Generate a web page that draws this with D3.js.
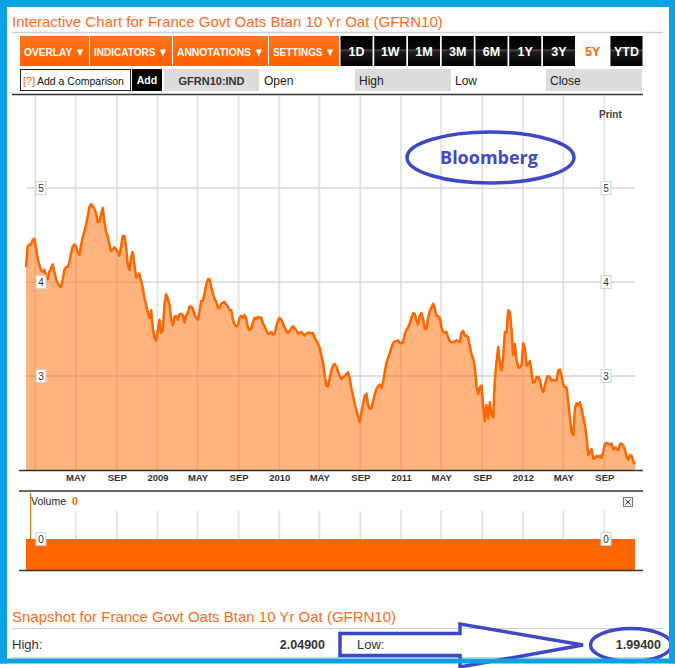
<!DOCTYPE html>
<html>
<head>
<meta charset="utf-8">
<script src="https://cdn.jsdelivr.net/npm/d3@7"></script>
<style>
  body { margin: 0; background: #fff; }
  svg { display: block; font-family: "Liberation Sans", Arial, sans-serif; }
</style>
</head>
<body>
<script>
// --- data ---
var titleText = "Interactive Chart for France Govt Oats Btan 10 Yr Oat (GFRN10)";
var snapshotTitle = "Snapshot for France Govt Oats Btan 10 Yr Oat (GFRN10)";
var menuLabels = ["OVERLAY \u25BC", "INDICATORS \u25BC", "ANNOTATIONS \u25BC", "SETTINGS \u25BC"];
var rangeLabels = ["1D", "1W", "1M", "3M", "6M", "1Y", "3Y", "5Y", "YTD"];
var activeRange = "5Y";
var tickerLabel = "GFRN10:IND";
var quoteFields = ["Open", "High", "Low", "Close"];

// 10y yield, one reading every 5 days from 4 Dec 2007
var seriesStart = "2007-12-04";
var sampleDays = 5;
var yields = [
  4.16, 4.38, 4.40, 4.40, 4.45, 4.46, 4.36, 4.25, 4.18, 4.13,
  4.11, 4.13, 4.07, 4.03, 4.11, 4.15, 4.19, 4.11, 4.03, 3.99,
  3.96, 3.95, 4.03, 4.13, 4.16, 4.16, 4.21, 4.31, 4.38, 4.40,
  4.38, 4.31, 4.29, 4.39, 4.48, 4.54, 4.61, 4.70, 4.80, 4.83,
  4.81, 4.78, 4.73, 4.64, 4.64, 4.72, 4.79, 4.64, 4.53, 4.49,
  4.40, 4.33, 4.35, 4.37, 4.35, 4.32, 4.28, 4.38, 4.49, 4.49,
  4.37, 4.18, 4.13, 4.27, 4.32, 4.18, 4.05, 4.07, 4.09, 4.01,
  3.94, 3.83, 3.76, 3.68, 3.62, 3.70, 3.51, 3.41, 3.38, 3.49,
  3.60, 3.46, 3.49, 3.76, 3.87, 3.82, 3.76, 3.60, 3.54, 3.63,
  3.64, 3.60, 3.66, 3.66, 3.65, 3.57, 3.65, 3.67, 3.74, 3.74,
  3.72, 3.65, 3.62, 3.60, 3.69, 3.80, 3.80, 3.88, 3.97, 4.03,
  4.03, 3.95, 3.88, 3.82, 3.79, 3.73, 3.72, 3.77, 3.78, 3.79,
  3.76, 3.74, 3.70, 3.70, 3.60, 3.55, 3.53, 3.54, 3.62, 3.64,
  3.62, 3.65, 3.61, 3.52, 3.49, 3.51, 3.57, 3.62, 3.61, 3.63,
  3.62, 3.62, 3.56, 3.53, 3.49, 3.45, 3.45, 3.47, 3.44, 3.45,
  3.53, 3.59, 3.62, 3.60, 3.56, 3.52, 3.48, 3.46, 3.48, 3.51,
  3.53, 3.51, 3.49, 3.45, 3.46, 3.47, 3.45, 3.43, 3.45, 3.46,
  3.46, 3.45, 3.46, 3.41, 3.38, 3.34, 3.30, 3.22, 3.15, 3.01,
  2.90, 2.89, 2.98, 3.06, 3.11, 3.13, 3.10, 3.05, 3.00, 2.97,
  2.99, 3.00, 3.02, 3.04, 2.98, 2.87, 2.79, 2.70, 2.64, 2.57,
  2.51, 2.61, 2.70, 2.79, 2.81, 2.70, 2.65, 2.66, 2.73, 2.80,
  2.86, 2.89, 2.91, 2.87, 2.93, 3.04, 3.14, 3.19, 3.24, 3.30,
  3.35, 3.37, 3.37, 3.38, 3.35, 3.35, 3.36, 3.45, 3.49, 3.52,
  3.56, 3.62, 3.67, 3.66, 3.59, 3.55, 3.64, 3.67, 3.61, 3.50,
  3.50, 3.62, 3.69, 3.73, 3.77, 3.72, 3.64, 3.64, 3.62, 3.52,
  3.47, 3.46, 3.47, 3.41, 3.37, 3.36, 3.36, 3.37, 3.38, 3.37,
  3.36, 3.46, 3.48, 3.43, 3.43, 3.41, 3.32, 3.23, 3.19, 3.09,
  2.90, 2.81, 2.88, 2.90, 2.69, 2.52, 2.69, 2.55, 2.72, 2.59,
  2.56, 2.96, 3.15, 3.31, 3.14, 3.06, 3.20, 3.47, 3.46, 3.70,
  3.68, 3.49, 3.22, 3.34, 3.17, 3.09, 3.09, 3.12, 3.35, 3.30,
  3.11, 3.13, 3.16, 3.04, 2.93, 2.94, 2.99, 2.99, 2.96, 2.87,
  2.83, 2.90, 2.98, 3.00, 2.99, 2.95, 2.96, 2.95, 2.96, 3.06,
  3.07, 3.00, 2.91, 2.88, 2.88, 2.72, 2.55, 2.40, 2.37, 2.66,
  2.71, 2.69, 2.72, 2.65, 2.56, 2.48, 2.34, 2.16, 2.19, 2.22,
  2.12, 2.13, 2.15, 2.14, 2.15, 2.13, 2.20, 2.28, 2.29, 2.28,
  2.27, 2.28, 2.22, 2.24, 2.23, 2.21, 2.28, 2.28, 2.26, 2.21,
  2.14, 2.11, 2.16, 2.15, 2.09, 2.06
];
var yTicks = [3, 4, 5];
var xTickDates = ["2008-01-01", "2008-05-01", "2008-09-01", "2009-01-01", "2009-05-01",
  "2009-09-01", "2010-01-01", "2010-05-01", "2010-09-01", "2011-01-01", "2011-05-01",
  "2011-09-01", "2012-01-01", "2012-05-01", "2012-09-01"];
var xTickLabels = ["", "MAY", "SEP", "2009", "MAY", "SEP", "2010", "MAY", "SEP", "2011",
  "MAY", "SEP", "2012", "MAY", "SEP"];
var volumes = [0];
var volumeTicks = [0];
var snapshotHigh = 2.049;
var snapshotLow = 1.994;

// --- page ---
var W = 675, H = 668;
var orange = "#ff6600", annot = "#3f47c9";
var parseDate = d3.timeParse("%Y-%m-%d");
var start = parseDate(seriesStart);
var series = yields.map(function (v, i) {
  return { date: d3.timeDay.offset(start, i * sampleDays), value: v };
});
var tickDates = xTickDates.map(parseDate);

var svg = d3.select("body").append("svg").attr("width", W).attr("height", H);
svg.append("rect").attr("width", W).attr("height", H).attr("fill", "#fff");

var defs = svg.append("defs");
function vGrad(id, stops) {
  var g = defs.append("linearGradient").attr("id", id)
    .attr("x1", 0).attr("y1", 0).attr("x2", 0).attr("y2", 1);
  stops.forEach(function (s) {
    g.append("stop").attr("offset", s[0]).attr("stop-color", s[1]);
  });
}
vGrad("gOrange", [["0%", "#ff7420"], ["50%", "#ff6a0a"], ["100%", "#ff6000"]]);
vGrad("gBlack", [["0%", "#000"], ["42%", "#080808"], ["47%", "#4a4a4a"], ["53%", "#1c1c1c"], ["100%", "#000"]]);

// title
svg.append("text").attr("x", 12).attr("y", 27).attr("font-size", 15)
  .attr("fill", "#ff6a1a").text(titleText);
svg.append("line").attr("x1", 12).attr("x2", 663).attr("y1", 32.5).attr("y2", 32.5)
  .attr("stroke", "#cfcfcf").attr("stroke-width", 1.5);

// toolbar: menus
var menuEdges = [20, 90, 173, 269, 340];
var menus = svg.append("g").selectAll("g").data(menuLabels).join("g");
menus.append("rect")
  .attr("x", function (d, i) { return menuEdges[i]; })
  .attr("y", 36)
  .attr("width", function (d, i) { return menuEdges[i + 1] - menuEdges[i] - 1; })
  .attr("height", 30)
  .attr("fill", "url(#gOrange)");
menus.append("text")
  .attr("x", function (d, i) { return (menuEdges[i] + menuEdges[i + 1] - 1) / 2; })
  .attr("y", 55.5).attr("text-anchor", "middle")
  .attr("font-size", 11.5).attr("font-weight", "bold").attr("fill", "#fff")
  .attr("textLength", function (d, i) { return menuEdges[i + 1] - menuEdges[i] - 9; })
  .attr("lengthAdjust", "spacingAndGlyphs")
  .text(function (d) { return d; });

// toolbar: ranges
var rangeX = d3.scaleBand().domain(rangeLabels).range([340.5, 642.5]).paddingInner(0.05);
var ranges = svg.append("g").selectAll("g").data(rangeLabels).join("g");
ranges.append("rect")
  .attr("x", function (d) { return rangeX(d); }).attr("y", 36)
  .attr("width", rangeX.bandwidth()).attr("height", 30)
  .attr("fill", function (d) { return d == activeRange ? "#fff" : "url(#gBlack)"; });
ranges.append("text")
  .attr("x", function (d) { return rangeX(d) + rangeX.bandwidth() / 2; })
  .attr("y", 56).attr("text-anchor", "middle")
  .attr("font-size", 12.5).attr("font-weight", "bold")
  .attr("fill", function (d) { return d == activeRange ? orange : "#fff"; })
  .text(function (d) { return d; });

// comparison row
svg.append("rect").attr("x", 20.5).attr("y", 69.5).attr("width", 110).attr("height", 21)
  .attr("fill", "#fff").attr("stroke", "#222");
svg.append("text").attr("x", 23).attr("y", 84.5).attr("font-size", 11)
  .attr("fill", orange).text("[?]");
svg.append("text").attr("x", 37).attr("y", 84.5).attr("font-size", 10.5).attr("fill", "#111").text("Add a Comparison");
svg.append("rect").attr("x", 132).attr("y", 69).attr("width", 30).attr("height", 22).attr("fill", "#000");
svg.append("text").attr("x", 147).attr("y", 84).attr("text-anchor", "middle")
  .attr("font-size", 10.5).attr("font-weight", "bold").attr("fill", "#fff").text("Add");
svg.append("rect").attr("x", 164).attr("y", 69).attr("width", 95).attr("height", 22).attr("fill", "#dcdcdc");
svg.append("text").attr("x", 211.5).attr("y", 84.5).attr("text-anchor", "middle")
  .attr("font-size", 11).attr("font-weight", "bold").attr("fill", "#333").text(tickerLabel);

var fieldX = [264, 355, 455, 546];
var fields = svg.append("g").selectAll("g").data(quoteFields).join("g");
fields.filter(function (d, i) { return i % 2 == 1; }).append("rect")
  .attr("x", function (d) { return fieldX[quoteFields.indexOf(d)]; })
  .attr("y", 69).attr("width", 96).attr("height", 22).attr("fill", "#dcdcdc");
fields.append("text")
  .attr("x", function (d, i) { return fieldX[i] + (i % 2 ? 4 : 0); })
  .attr("y", 85).attr("font-size", 12).attr("fill", "#222")
  .text(function (d) { return d; });

// --- main price panel ---
var x = d3.scaleTime().domain(d3.extent(series, function (d) { return d.date; })).range([26, 635]);
var y = d3.scaleLinear().domain([2, 5.97]).range([470, 97]);

svg.append("line").attr("x1", 12).attr("x2", 643).attr("y1", 94.5).attr("y2", 94.5)
  .attr("stroke", "#333").attr("stroke-width", 1.5);

svg.append("g").selectAll("line").data(tickDates).join("line")
  .attr("x1", function (d) { return x(d); }).attr("x2", function (d) { return x(d); })
  .attr("y1", 96).attr("y2", 470)
  .attr("stroke", "#e4e4e4").attr("stroke-width", 2);
svg.append("g").selectAll("line").data(yTicks).join("line")
  .attr("x1", 26).attr("x2", 635)
  .attr("y1", function (d) { return y(d); }).attr("y2", function (d) { return y(d); })
  .attr("stroke", "#d2d2d2").attr("stroke-width", 1.4);

var area = d3.area()
  .x(function (d) { return x(d.date); })
  .y0(y(2))
  .y1(function (d) { return y(d.value); });
var line = d3.line()
  .x(function (d) { return x(d.date); })
  .y(function (d) { return y(d.value); });
svg.append("path").datum(series).attr("d", area)
  .attr("fill", "#ff6a00").attr("fill-opacity", 0.51);
svg.append("path").datum(series).attr("d", line)
  .attr("fill", "none").attr("stroke", orange).attr("stroke-width", 2.5)
  .attr("stroke-linejoin", "round");

// boxed y labels on both sides
function boxLabels(g, ticks, scale, cx) {
  var lab = g.append("g").selectAll("g").data(ticks).join("g")
    .attr("transform", function (d) { return "translate(" + cx + "," + scale(d) + ")"; });
  lab.append("rect").attr("x", -5).attr("y", -6.5).attr("width", 10).attr("height", 13)
    .attr("fill", "#fff").attr("stroke", "#d0d0d0");
  lab.append("text").attr("y", 3.5).attr("text-anchor", "middle")
    .attr("font-size", 10).attr("fill", "#333").text(function (d) { return d; });
}
boxLabels(svg, yTicks, y, 41);
boxLabels(svg, yTicks, y, 606);

svg.append("text").attr("x", 599).attr("y", 117.5).attr("font-size", 10)
  .attr("font-weight", "bold").attr("fill", "#444").text("Print");

var xAxis = svg.append("g").attr("transform", "translate(0,470)")
  .call(d3.axisBottom(x).tickValues(tickDates).tickSize(0).tickPadding(4)
    .tickFormat(function (d, i) { return xTickLabels[i]; }));
xAxis.select(".domain").remove();
xAxis.selectAll("text").attr("font-size", 9.5).attr("font-weight", "bold")
  .attr("font-family", "Liberation Sans, Arial, sans-serif").attr("fill", "#333");
svg.append("line").attr("x1", 19).attr("x2", 643).attr("y1", 470.5).attr("y2", 470.5)
  .attr("stroke", "#333").attr("stroke-width", 1.5);

// --- volume panel ---
var vy = d3.scaleLinear().domain([0, 1]).range([539, 512]);
svg.append("line").attr("x1", 19).attr("x2", 643).attr("y1", 491).attr("y2", 491)
  .attr("stroke", "#333").attr("stroke-width", 1.5);
svg.append("g").selectAll("line").data(tickDates.slice(1)).join("line")
  .attr("x1", function (d) { return x(d); }).attr("x2", function (d) { return x(d); })
  .attr("y1", 511).attr("y2", 539)
  .attr("stroke", "#e4e4e4").attr("stroke-width", 2);
svg.append("line").attr("x1", 30.5).attr("x2", 30.5).attr("y1", 493).attr("y2", 539)
  .attr("stroke", orange).attr("stroke-width", 1);
svg.append("text").attr("x", 31).attr("y", 505).attr("font-size", 10.5).attr("fill", "#222").text("Volume");
svg.append("text").attr("x", 72).attr("y", 505).attr("font-size", 10.5).attr("font-weight", "bold")
  .attr("fill", orange).text(volumes[volumes.length - 1]);
svg.append("rect").attr("x", 623.5).attr("y", 497.5).attr("width", 9).attr("height", 9)
  .attr("fill", "#eee").attr("stroke", "#777");
svg.append("path").attr("d", "M625.5,499.5L630.5,504.5M630.5,499.5L625.5,504.5")
  .attr("stroke", "#333").attr("stroke-width", 1);
svg.append("g").selectAll("rect").data(volumes).join("rect")
  .attr("x", x.range()[0]).attr("width", x.range()[1] - x.range()[0])
  .attr("y", function (d) { return vy(d); })
  .attr("height", function (d) { return 570 - vy(d); })
  .attr("fill", orange);
boxLabels(svg, volumeTicks, vy, 41);
boxLabels(svg, volumeTicks, vy, 606);
svg.append("line").attr("x1", 19).attr("x2", 643).attr("y1", 570.5).attr("y2", 570.5)
  .attr("stroke", "#333").attr("stroke-width", 1.5);

// --- snapshot ---
var fmt = d3.format(".5f");
svg.append("text").attr("x", 12).attr("y", 622).attr("font-size", 15)
  .attr("fill", "#ff6a1a").text(snapshotTitle);
svg.append("line").attr("x1", 12).attr("x2", 663).attr("y1", 628.5).attr("y2", 628.5)
  .attr("stroke", "#cfcfcf");
svg.append("line").attr("x1", 12).attr("x2", 663).attr("y1", 657.5).attr("y2", 657.5)
  .attr("stroke", "#cfcfcf");
svg.append("line").attr("x1", 340.5).attr("x2", 340.5).attr("y1", 629).attr("y2", 657)
  .attr("stroke", "#cfcfcf");
svg.append("text").attr("x", 12).attr("y", 648.5).attr("font-size", 13).attr("fill", "#333").text("High:");
svg.append("text").attr("x", 325).attr("y", 648.5).attr("text-anchor", "end").attr("font-size", 12.5)
  .attr("font-weight", "bold").attr("fill", "#333").text(fmt(snapshotHigh));
svg.append("text").attr("x", 357).attr("y", 648.5).attr("font-size", 13).attr("fill", "#333").text("Low:");
svg.append("text").attr("x", 661).attr("y", 648.5).attr("text-anchor", "end").attr("font-size", 12.5)
  .attr("font-weight", "bold").attr("fill", "#333").text(fmt(snapshotLow));

// --- hand-drawn annotations ---
svg.append("ellipse").attr("cx", 490.5).attr("cy", 157.5).attr("rx", 83.5).attr("ry", 25.5)
  .attr("fill", "none").attr("stroke", annot).attr("stroke-width", 3.5);
svg.append("text").attr("x", 489).attr("y", 163.5).attr("text-anchor", "middle")
  .attr("font-family", "Open Sans, sans-serif").attr("font-size", 18).attr("font-weight", "bold")
  .attr("fill", "#4348c9").text("Bloomberg");
svg.append("path")
  .attr("d", "M340,633.5L460,633.5L460,624L583,645L460,667L460,655.5L340,655.5Z")
  .attr("fill", "none").attr("stroke", annot).attr("stroke-width", 3.5).attr("stroke-linejoin", "miter");
svg.append("ellipse").attr("cx", 631).attr("cy", 645).attr("rx", 40.5).attr("ry", 16.5)
  .attr("fill", "none").attr("stroke", annot).attr("stroke-width", 3.5);

// light blue frame round the capture
var frame = "#0ba2e3";
svg.append("rect").attr("x", 0).attr("y", 0).attr("width", W).attr("height", 7).attr("fill", frame);
svg.append("rect").attr("x", 0).attr("y", 0).attr("width", 7).attr("height", 663.5).attr("fill", frame);
svg.append("rect").attr("x", 669).attr("y", 0).attr("width", 6).attr("height", 663.5).attr("fill", frame);
svg.append("rect").attr("x", 0).attr("y", 658.5).attr("width", W).attr("height", 5).attr("fill", frame);
</script>
</body>
</html>
